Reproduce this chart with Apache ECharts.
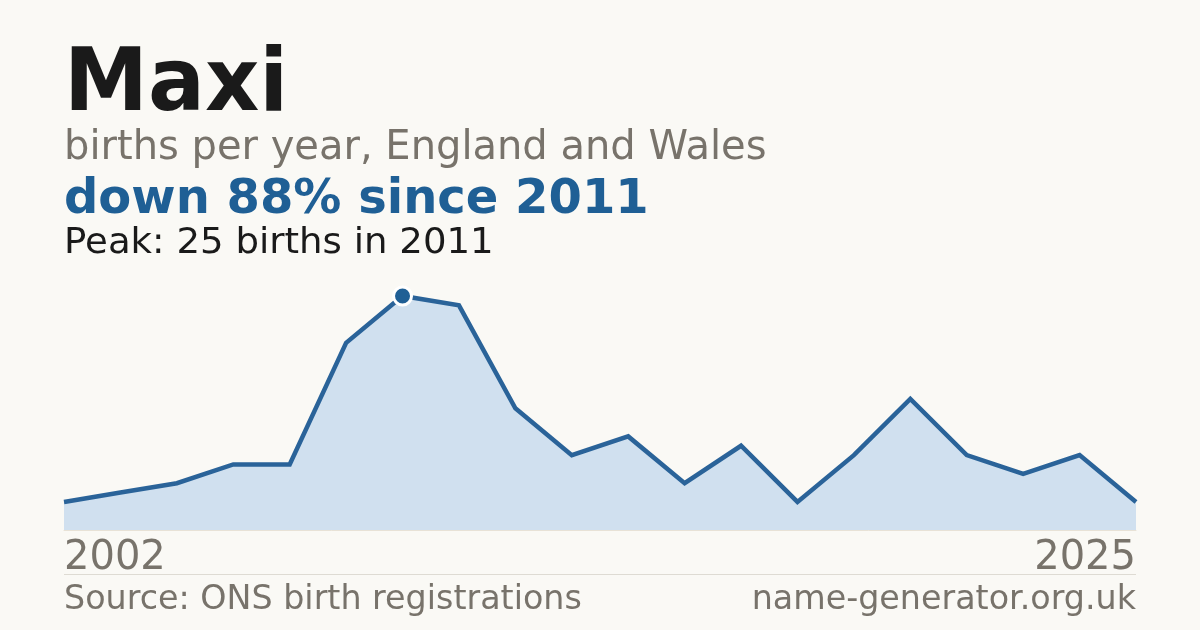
<!DOCTYPE html>
<html>
<head>
<meta charset="utf-8">
<script src="https://cdn.jsdelivr.net/npm/echarts@6/dist/echarts.min.js"></script>
<style>
html,body{margin:0;padding:0;background:#faf9f5;}
#c{width:1200px;height:630px;}
</style>
</head>
<body>
<div id="c"></div>
<script>
const name = 'Maxi';
const years = [2002, 2003, 2005, 2007, 2009, 2010, 2011, 2012, 2013, 2014, 2015, 2016, 2017, 2018, 2019, 2021, 2022, 2023, 2024, 2025];
const births = [3, 4, 5, 7, 7, 20, 25, 24, 13, 8, 10, 5, 9, 3, 8, 14, 8, 6, 8, 3];

const peak = Math.max(...births);
const peakIdx = births.indexOf(peak);
const peakYear = years[peakIdx];
const last = births[births.length - 1];
const pct = Math.round((peak - last) / peak * 100);

const FONT = '"DejaVu Sans", sans-serif';
const GRAY = '#78736b';
const BLUE = '#1f5f95';

const chart = echarts.init(document.getElementById('c'), null, {renderer: 'canvas'});
const peakSeries = births.map((v, i) => i === peakIdx ? v : null);

chart.setOption({
  backgroundColor: '#faf9f5',
  animation: false,
  grid: {left: 64, right: 64, top: 296, bottom: 100},
  xAxis: {
    type: 'category',
    data: years.map(String),
    boundaryGap: false,
    axisLine: {show: true, lineStyle: {color: '#e8e2d6', width: 1}},
    axisTick: {show: false},
    axisLabel: {show: false},
    splitLine: {show: false}
  },
  yAxis: {
    type: 'value',
    min: 0,
    max: 25,
    show: false,
    splitLine: {show: false}
  },
  series: [
    {
      type: 'line',
      data: births,
      symbol: 'none',
      clip: false,
      lineStyle: {color: '#2a6399', width: 4.5, join: 'miter'},
      areaStyle: {color: '#d0e0ef', opacity: 1},
      z: 2
    },
    {
      type: 'scatter',
      data: peakSeries,
      symbol: 'circle',
      symbolSize: 18,
      clip: false,
      itemStyle: {color: BLUE, borderColor: '#ffffff', borderWidth: 3, opacity: 1},
      z: 5
    }
  ],
  graphic: [
    {type: 'text', left: 64, top: 44, scaleX: 0.97, style: {text: name, font: 'bold 87px ' + FONT, fill: '#1a1a1a'}},
    {type: 'text', left: 64, top: 129, style: {text: 'births per year, England and Wales', font: '40px ' + FONT, fill: GRAY}},
    {type: 'text', left: 64, top: 177, style: {text: 'down ' + pct + '% since ' + peakYear, font: 'bold 48px ' + FONT, fill: BLUE}},
    {type: 'text', left: 64, top: 226, scaleX: 1.06, style: {text: 'Peak: ' + peak + ' births in ' + peakYear, font: '35px ' + FONT, fill: '#1a1a1a'}},
    {type: 'text', left: 64, top: 539, style: {text: String(years[0]), font: '40px ' + FONT, fill: GRAY}},
    {type: 'text', right: 64, top: 539, style: {text: String(years[years.length - 1]), font: '40px ' + FONT, fill: GRAY}},
    {type: 'line', shape: {x1: 64, y1: 574.5, x2: 1136, y2: 574.5}, style: {stroke: '#dedbd3', lineWidth: 1}},
    {type: 'text', left: 64, top: 584, scaleX: 1.01, style: {text: 'Source: ONS birth registrations', font: '33px ' + FONT, fill: GRAY}},
    {type: 'text', right: 64, top: 584, scaleX: 1.01, style: {text: 'name-generator.org.uk', font: '33px ' + FONT, fill: GRAY}}
  ]
});
</script>
</body>
</html>
